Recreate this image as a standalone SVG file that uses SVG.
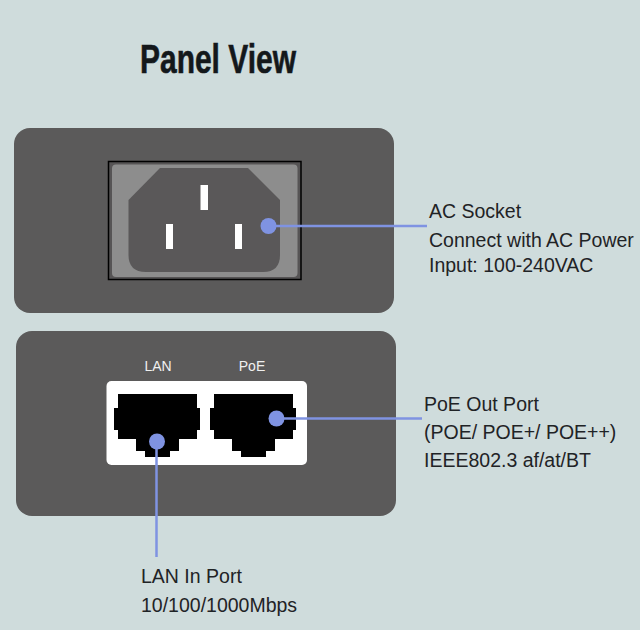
<svg xmlns="http://www.w3.org/2000/svg" width="640" height="630" viewBox="0 0 640 630">
<style>
.t{font-family:"Liberation Sans",Arial,sans-serif;font-size:19.500px;fill:#1f2326}
.p{font-family:"Liberation Sans",Arial,sans-serif;font-size:14px;fill:#f0f0f0;text-anchor:middle}
.panel{fill:#5b5a5a}
.pin{fill:#fff}
.lead{stroke:#7f93e2;stroke-width:2.500;fill:none}
.dot{fill:#7f93e2}
</style>
<defs>
<path id="rj" d="M118 394H197V408H200V430H197V439H179V451H170V457H145V451H136V439H118V430H114V408H118Z" fill="#000"/>
</defs>
<rect width="640" height="630" fill="#cfdcdc"/>
<text id="title" x="140" y="72.500" font-family="'Liberation Sans',Arial,sans-serif" font-weight="700" font-size="41" fill="#14181b" stroke="#14181b" stroke-width="0.600" textLength="156" lengthAdjust="spacingAndGlyphs">Panel View</text>
<g id="ac-panel">
<rect class="panel" x="14" y="128" width="380" height="185" rx="16"/>
<rect x="108.500" y="161.500" width="192.500" height="118" fill="#565455" stroke="#000" stroke-width="1.500"/>
<rect x="112" y="164.500" width="185.500" height="112.500" rx="4" fill="#8d8d8d"/>
<path d="M160 168H248L280 200V255Q280 272 263 272H146Q128.500 272 128.500 255V200Z" fill="#5a5859"/>
<rect class="pin" x="200.500" y="185" width="7.500" height="25"/>
<rect class="pin" x="166" y="224" width="7" height="25"/>
<rect class="pin" x="235" y="224" width="7" height="25"/>
</g>
<g id="port-panel">
<rect class="panel" x="16" y="331" width="380" height="185" rx="16"/>
<text class="p" x="158" y="371">LAN</text>
<text class="p" x="252" y="371">PoE</text>
<rect x="106.500" y="381" width="200.500" height="84" rx="5" fill="#fff"/>
<use href="#rj"/>
<use href="#rj" x="96"/>
</g>
<g id="connectors">
<path class="lead" d="M268.500 226H427"/>
<path class="lead" d="M276.500 418.500H422"/>
<path class="lead" d="M156.500 441.500V557"/>
<circle class="dot" cx="268.500" cy="226" r="8"/>
<circle class="dot" cx="276.500" cy="418.500" r="8"/>
<circle class="dot" cx="157" cy="441.500" r="8"/>
</g>
<g id="ac-label">
<text class="t" x="429" y="218">AC Socket</text>
<text class="t" x="429" y="247">Connect with AC Power</text>
<text class="t" x="429" y="272">Input: 100-240VAC</text>
</g>
<g id="poe-label">
<text class="t" x="424" y="411">PoE Out Port</text>
<text class="t" x="424" y="439">(POE/ POE+/ POE++)</text>
<text class="t" x="424" y="467">IEEE802.3 af/at/BT</text>
</g>
<g id="lan-label">
<text class="t" x="141" y="583">LAN In Port</text>
<text class="t" x="141" y="612">10/100/1000Mbps</text>
</g>
</svg>
